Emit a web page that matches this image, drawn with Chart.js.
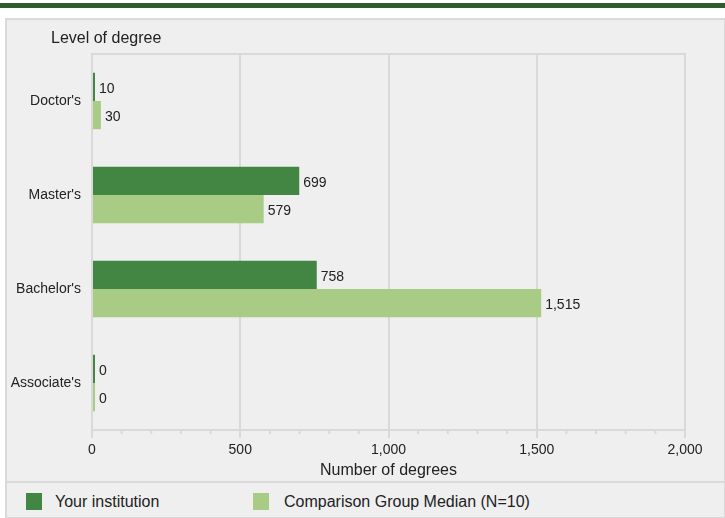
<!DOCTYPE html>
<html>
<head>
<meta charset="utf-8">
<script src="https://cdn.jsdelivr.net/npm/chart.js@4.4.1/dist/chart.umd.min.js"></script>
<style>
  body { margin: 0; background: #fff; font-family: "Liberation Sans", Arial, sans-serif; }
  #wrap { position: relative; width: 725px; height: 518px; overflow: hidden; }
  #topbar { position: absolute; left: 0; top: 3px; width: 725px; height: 5px; background: #2e5c2b; }
  #panel { position: absolute; left: 5px; top: 18px; width: 717px; height: 497px; background: #efefef; border: 2px solid #d9d9d9; }
  #sep { position: absolute; left: 5px; top: 481px; width: 719px; height: 2px; background: #d9d9d9; }
  #chart { position: absolute; left: 0; top: 0; }
  #legend { position: absolute; left: 0; top: 483px; width: 725px; height: 34px; font-size: 16px; color: #222; }
  .item { position: absolute; top: 2px; height: 34px; line-height: 34px; white-space: nowrap; }
  .box { position: absolute; top: 10px; width: 16px; height: 17px; }
</style>
</head>
<body>
<div id="wrap">
  <div id="topbar"></div>
  <div id="panel"></div>
  <div id="sep"></div>
  <canvas id="chart" width="725" height="482"></canvas>
  <div id="legend"></div>
</div>
<script>
const categories = ["Doctor's", "Master's", "Bachelor's", "Associate's"];
const yourInstitution = [10, 699, 758, 0];
const comparisonMedian = [30, 579, 1515, 0];
const seriesNames = ['Your institution', 'Comparison Group Median (N=10)'];
const seriesColors = ['#438543', '#a8cb86'];
const xTicksMajor = [0, 500, 1000, 1500, 2000];

const gridColor = '#d9d9d9';
const textColor = '#222';
const fontFamily = '"Liberation Sans", Arial, sans-serif';

const extras = {
  id: 'extras',
  beforeDatasetsDraw(chart) {
    const ctx = chart.ctx;
    const a = chart.chartArea;
    const x = chart.scales.x;
    ctx.save();
    ctx.strokeStyle = gridColor;
    ctx.lineWidth = 2;
    ctx.beginPath();
    ctx.moveTo(a.left, a.top);
    ctx.lineTo(a.right + 1, a.top);
    ctx.stroke();
    // short minor ticks every 100
    ctx.beginPath();
    x.ticks.forEach(t => {
      if (t.value % 500 !== 0) {
        const px = x.getPixelForValue(t.value);
        ctx.moveTo(px, a.bottom);
        ctx.lineTo(px, a.bottom + 4);
      }
    });
    ctx.stroke();
    ctx.restore();
  },
  afterDatasetsDraw(chart) {
    const ctx = chart.ctx;
    ctx.save();
    ctx.font = '14px ' + fontFamily;
    ctx.fillStyle = textColor;
    ctx.textBaseline = 'middle';
    ctx.textAlign = 'left';
    chart.data.datasets.forEach((ds, i) => {
      chart.getDatasetMeta(i).data.forEach((bar, j) => {
        ctx.fillText(ds.data[j].toLocaleString('en-US'), bar.x + 4, bar.y + 2);
      });
    });
    // axis title above the category labels
    ctx.font = '16px ' + fontFamily;
    ctx.fillText('Level of degree', 51, 39);
    ctx.restore();
  }
};

const chart = new Chart(document.getElementById('chart').getContext('2d'), {
  type: 'bar',
  data: {
    labels: categories,
    datasets: [
      { label: seriesNames[0], data: yourInstitution, backgroundColor: seriesColors[0] },
      { label: seriesNames[1], data: comparisonMedian, backgroundColor: seriesColors[1] }
    ]
  },
  options: {
    indexAxis: 'y',
    responsive: false,
    animation: false,
    categoryPercentage: 0.6,
    barPercentage: 1,
    minBarLength: 3,
    layout: { padding: { top: 54, right: 40, left: 0, bottom: 0 } },
    scales: {
      x: {
        min: 0,
        max: 2000,
        afterFit: s => { s.height = 52; },
        ticks: {
          stepSize: 100,
          autoSkip: false,
          maxRotation: 0,
          padding: 4,
          color: textColor,
          font: { size: 14, family: fontFamily },
          callback: v => xTicksMajor.includes(v) ? v.toLocaleString('en-US') : ''
        },
        grid: {
          lineWidth: 2,
          tickLength: 8,
          color: c => (c.tick && c.tick.value % 500 === 0) ? gridColor : 'rgba(0,0,0,0)',
          tickColor: c => (c.tick && c.tick.value % 500 === 0) ? gridColor : 'rgba(0,0,0,0)'
        },
        border: { color: gridColor, width: 2 },
        title: {
          display: true,
          text: 'Number of degrees',
          color: textColor,
          font: { size: 16, family: fontFamily },
          padding: { top: 2, bottom: 2 }
        }
      },
      y: {
        afterFit: s => { s.width = 92; },
        ticks: {
          padding: 11,
          color: textColor,
          font: { size: 14, family: fontFamily }
        },
        grid: { display: false, drawTicks: false },
        border: { color: gridColor, width: 2 }
      }
    },
    plugins: {
      legend: { display: false },
      tooltip: { enabled: false }
    }
  },
  plugins: [extras]
});

// legend strip under the chart
const legendEl = document.getElementById('legend');
const legendX = [[26, 55], [253, 284]];
chart.data.datasets.forEach((ds, i) => {
  const box = document.createElement('div');
  box.className = 'box';
  box.style.left = legendX[i][0] + 'px';
  box.style.background = ds.backgroundColor;
  legendEl.appendChild(box);
  const item = document.createElement('div');
  item.className = 'item';
  item.style.left = legendX[i][1] + 'px';
  item.textContent = ds.label;
  legendEl.appendChild(item);
});
</script>
</body>
</html>
